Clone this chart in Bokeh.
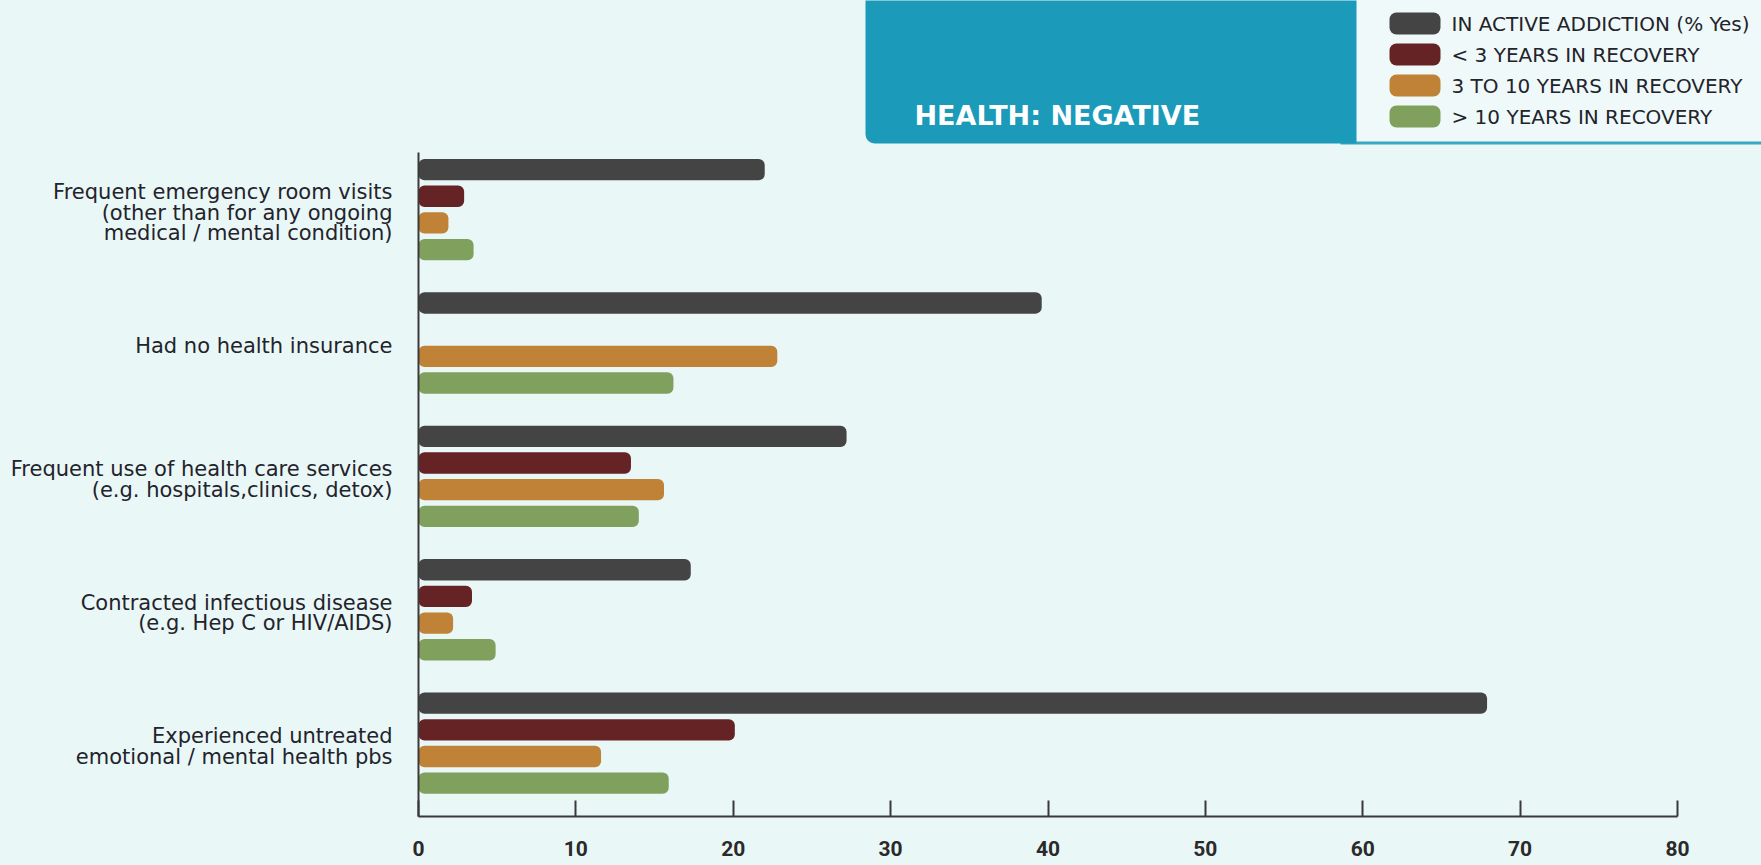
from bokeh.plotting import figure
from bokeh.models import Range1d, FixedTicker, ColumnDataSource
from bokeh.layouts import column
from bokeh.embed import file_html
from bokeh.resources import INLINE
from bokeh.core.properties import value

# ---- data -------------------------------------------------------------
categories = [
    "Frequent emergency room visits\n(other than for any ongoing\nmedical / mental condition)",
    "Had no health insurance",
    "Frequent use of health care services\n(e.g. hospitals,clinics, detox)",
    "Contracted infectious disease\n(e.g. Hep C or HIV/AIDS)",
    "Experienced untreated\nemotional / mental health pbs",
]
series_names = [
    "IN ACTIVE ADDICTION (% Yes)",
    "< 3 YEARS IN RECOVERY",
    "3 TO 10 YEARS IN RECOVERY",
    "> 10 YEARS IN RECOVERY",
]
series_colors = ["#444444", "#662326", "#bf8236", "#80a15e"]

active_addiction = [22.0, 39.6, 27.2, 17.3, 67.9]
recovery_under_3 = [2.9, None, 13.5, 3.4, 20.1]
recovery_3_to_10 = [1.9, 22.8, 15.6, 2.2, 11.6]
recovery_over_10 = [3.5, 16.2, 14.0, 4.9, 15.9]
series_values = [active_addiction, recovery_under_3, recovery_3_to_10, recovery_over_10]

x_ticks = [0, 10, 20, 30, 40, 50, 60, 70, 80]
title_text = "HEALTH: NEGATIVE"

# ---- styling ----------------------------------------------------------
BG = "#eaf7f7"
PANEL = "#eff9f9"
BLUE = "#1b9aba"
TEXT = "#23232b"
LABEL_FONT = "DejaVu Sans"

W = 1761
HEADER_H = 145
MAIN_H = 865 - HEADER_H
FRAME_LEFT = 418          # pixel where the value axis starts
PX_PER_UNIT = 15.7375     # horizontal pixels per percentage point
X_MAX_AXIS = 80

# ---- header: title block + legend (pixel coordinates) -----------------
header = figure(width=W, height=HEADER_H, x_range=Range1d(FRAME_LEFT, W), y_range=Range1d(HEADER_H, 0),
                output_backend="svg", toolbar_location=None,
                min_border_left=FRAME_LEFT, min_border_right=0, min_border_top=0, min_border_bottom=0,
                background_fill_color=BG, border_fill_color=BG, outline_line_color=None)
header.axis.visible = False
header.grid.visible = False

# legend panel and its underline
header.quad(left=1350, right=W, top=-5, bottom=141, fill_color=PANEL, line_color=None)
header.quad(left=1340, right=W, top=141, bottom=144, fill_color=BLUE, fill_alpha=0.85, line_color=None)
# title block
header.quad(left=865, right=1356, top=-20, bottom=143, fill_color=BLUE, line_color=None,
            border_radius=(0, 0, 0, 9))
header.text(x=[914], y=[115], text=[title_text], text_color="white",
            text_font=value(LABEL_FONT), text_font_size="27px", text_font_style="bold",
            text_baseline="middle", text_align="left")

leg_y = [23 + 31 * i for i in range(len(series_names))]
leg_src = ColumnDataSource(dict(y=leg_y, name=series_names, color=series_colors))
header.hbar(y="y", left=1389, right=1440, height=22, fill_color="color", line_color=None,
            border_radius=7, source=leg_src)
header.text(x=1451, y="y", text="name", text_color=TEXT, text_font=value(LABEL_FONT),
            text_font_size="20px", text_baseline="middle", text_align="left", source=leg_src)

# ---- main chart -------------------------------------------------------
SLOTS_PER_GROUP = 5
n_series = len(series_names)
x_end = (W - FRAME_LEFT) / PX_PER_UNIT

p = figure(width=W, height=MAIN_H, x_range=Range1d(0, x_end), y_range=Range1d(24.25, -0.64),
           output_backend="svg", toolbar_location=None,
           min_border_left=FRAME_LEFT, min_border_right=0, min_border_top=7, min_border_bottom=49,
           background_fill_color=BG, border_fill_color=BG, outline_line_color=None)
p.grid.visible = False

for s in range(n_series):
    ys, rights = [], []
    for g, v in enumerate(series_values[s]):
        if v is None:
            continue
        ys.append(g * SLOTS_PER_GROUP + s)
        rights.append(v)
    src = ColumnDataSource(dict(y=ys, right=rights))
    p.hbar(y="y", left=0, right="right", height=0.8, fill_color=series_colors[s],
           line_color=None, border_radius=6, source=src)

# x axis
xa = p.xaxis[0]
xa.ticker = FixedTicker(ticks=x_ticks)
xa.bounds = (0, X_MAX_AXIS)
xa.axis_line_color = "#3a3a3a"
xa.axis_line_width = 2
xa.major_tick_in = 16
xa.major_tick_out = 0
xa.major_tick_line_color = "#3a3a3a"
xa.major_tick_line_width = 2
xa.minor_tick_line_color = None
xa.major_label_standoff = 24
xa.major_label_text_font = "Roboto"
xa.major_label_text_font_size = "21px"
xa.major_label_text_font_style = "bold"
xa.major_label_text_line_height = 1.0
xa.major_label_text_color = "#2a2a2a"

# y axis with category labels, centred slightly below each group's middle
ya = p.yaxis[0]
centers = [g * SLOTS_PER_GROUP + (n_series - 1) / 2 + 0.12 for g in range(len(categories))]
ya.ticker = FixedTicker(ticks=centers)
ya.major_label_overrides = {c: lab for c, lab in zip(centers, categories)}
ya.axis_line_color = "#3a3a3a"
ya.axis_line_width = 2
ya.major_tick_in = 0
ya.major_tick_out = 0
ya.minor_tick_line_color = None
ya.major_label_standoff = 26
ya.major_label_text_font = LABEL_FONT
ya.major_label_text_font_size = "21px"
ya.major_label_text_color = TEXT
ya.major_label_text_line_height = 0.85

layout = column(header, p, spacing=0, styles={"background-color": BG})

open("out.html", "w").write(file_html(layout, INLINE))
